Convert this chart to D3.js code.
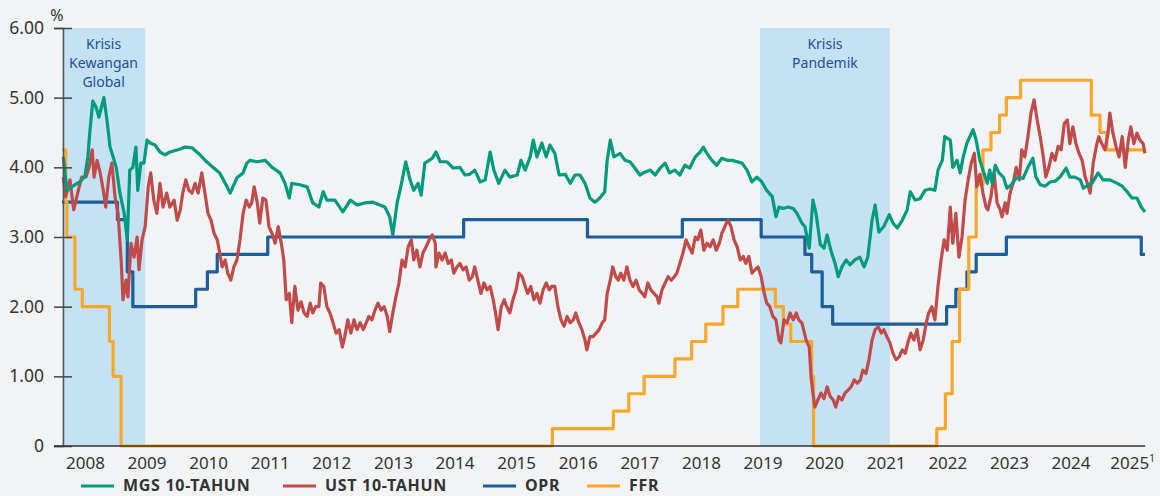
<!DOCTYPE html>
<html>
<head>
<meta charset="utf-8">
<script src="https://cdn.jsdelivr.net/npm/d3@7"></script>
<style>
  html, body { margin: 0; padding: 0; background: #f2f3f5; }
  svg { display: block; font-family: "Noto Sans", "Open Sans", sans-serif; }
</style>
</head>
<body>
<div id="chart"></div>
<script>
// years as decimal values, rates in %
const years = d3.range(2008, 2026);
const yTicks = [0, 1, 2, 3, 4, 5, 6];

const crises = [
  { label: ["Krisis", "Kewangan", "Global"], from: 2008.0, to: 2009.35 },
  { label: ["Krisis", "Pandemik"], from: 2019.33, to: 2021.44 }
];

const mgs10y = [
  [2008.02,4.15],[2008.08,3.67],[2008.13,3.70],[2008.21,3.75],[2008.29,3.79],[2008.37,3.87],
  [2008.42,4.15],[2008.45,4.49],[2008.50,4.95],[2008.55,4.87],[2008.60,4.72],[2008.68,5.00],
  [2008.73,4.68],[2008.78,4.29],[2008.83,4.15],[2008.88,4.00],[2008.94,3.63],[2009.01,3.34],
  [2009.06,2.96],[2009.10,3.96],[2009.15,4.00],[2009.20,4.29],[2009.23,3.67],[2009.28,4.06],
  [2009.33,4.06],[2009.38,4.39],[2009.43,4.35],[2009.51,4.32],[2009.59,4.22],[2009.67,4.18],
  [2009.75,4.22],[2009.87,4.25],[2010.00,4.29],[2010.11,4.28],[2010.24,4.18],[2010.35,4.08],
  [2010.45,4.00],[2010.56,3.92],[2010.68,3.72],[2010.73,3.63],[2010.84,3.85],[2010.94,3.92],
  [2011.00,4.06],[2011.05,4.10],[2011.17,4.08],[2011.30,4.10],[2011.41,4.00],[2011.54,3.92],
  [2011.62,3.77],[2011.69,3.56],[2011.73,3.77],[2011.86,3.75],[2011.98,3.72],[2012.07,3.49],
  [2012.17,3.43],[2012.24,3.65],[2012.30,3.53],[2012.43,3.53],[2012.56,3.36],[2012.68,3.53],
  [2012.79,3.46],[2012.92,3.49],[2013.05,3.50],[2013.16,3.46],[2013.24,3.43],[2013.32,3.29],
  [2013.37,3.03],[2013.44,3.49],[2013.50,3.72],[2013.58,4.08],[2013.65,3.82],[2013.71,3.67],
  [2013.78,3.77],[2013.83,3.60],[2013.89,4.06],[2014.01,4.13],[2014.07,4.22],[2014.14,4.08],
  [2014.25,4.08],[2014.35,3.99],[2014.46,4.00],[2014.54,3.89],[2014.62,3.90],[2014.70,3.96],
  [2014.79,3.79],[2014.87,3.82],[2014.95,4.22],[2015.01,3.96],[2015.09,3.77],[2015.19,3.96],
  [2015.27,3.86],[2015.39,3.89],[2015.45,4.10],[2015.52,3.96],[2015.60,4.15],[2015.65,4.39],
  [2015.71,4.15],[2015.79,4.35],[2015.86,4.15],[2015.92,4.32],[2016.00,4.20],[2016.07,3.89],
  [2016.17,3.90],[2016.25,3.77],[2016.33,3.89],[2016.41,3.89],[2016.49,3.77],[2016.57,3.56],
  [2016.65,3.50],[2016.73,3.56],[2016.81,3.65],[2016.85,4.10],[2016.90,4.39],[2016.96,4.15],
  [2017.06,4.20],[2017.14,4.10],[2017.22,4.08],[2017.30,3.99],[2017.38,3.89],[2017.46,3.93],
  [2017.55,3.96],[2017.63,3.89],[2017.71,3.99],[2017.79,4.06],[2017.86,3.92],[2017.95,3.96],
  [2018.03,3.89],[2018.11,4.03],[2018.19,3.99],[2018.28,4.15],[2018.36,4.22],[2018.41,4.29],
  [2018.47,4.20],[2018.55,4.10],[2018.63,4.03],[2018.71,4.13],[2018.80,4.10],[2018.88,4.10],
  [2018.96,4.08],[2019.04,4.06],[2019.12,3.96],[2019.20,3.79],[2019.28,3.86],[2019.36,3.79],
  [2019.44,3.67],[2019.53,3.58],[2019.59,3.29],[2019.64,3.43],[2019.70,3.41],[2019.79,3.43],
  [2019.87,3.41],[2019.93,3.34],[2020.01,3.20],[2020.06,3.15],[2020.13,2.84],[2020.19,3.53],
  [2020.24,3.34],[2020.31,2.89],[2020.37,2.84],[2020.42,3.03],[2020.48,2.81],[2020.55,2.62],
  [2020.60,2.43],[2020.66,2.57],[2020.73,2.67],[2020.79,2.60],[2020.87,2.67],[2020.95,2.71],
  [2021.02,2.57],[2021.08,2.71],[2021.15,3.24],[2021.20,3.46],[2021.26,3.07],[2021.34,3.15],
  [2021.43,3.32],[2021.49,3.20],[2021.56,3.13],[2021.64,3.24],[2021.72,3.39],[2021.77,3.65],
  [2021.85,3.53],[2021.93,3.55],[2022.01,3.67],[2022.09,3.69],[2022.17,3.67],[2022.22,3.96],
  [2022.29,4.10],[2022.33,4.44],[2022.42,4.39],[2022.46,4.00],[2022.53,4.10],[2022.58,3.92],
  [2022.63,4.15],[2022.69,4.35],[2022.79,4.54],[2022.84,4.39],[2022.90,4.10],[2022.95,3.96],
  [2023.02,3.77],[2023.06,3.96],[2023.10,3.77],[2023.15,4.03],[2023.21,3.92],[2023.28,3.86],
  [2023.34,3.70],[2023.41,3.75],[2023.47,3.82],[2023.52,3.86],[2023.60,3.84],[2023.68,4.00],
  [2023.76,4.13],[2023.81,3.86],[2023.88,3.75],[2023.96,3.73],[2024.04,3.79],[2024.12,3.80],
  [2024.20,3.86],[2024.30,3.99],[2024.36,3.86],[2024.44,3.86],[2024.53,3.82],[2024.58,3.70],
  [2024.66,3.75],[2024.72,3.77],[2024.82,3.92],[2024.90,3.82],[2025.01,3.82],[2025.13,3.77],
  [2025.21,3.73],[2025.29,3.65],[2025.37,3.56],[2025.45,3.56],[2025.52,3.43],[2025.58,3.36]
];

const ust10y = [
  [2008.02,3.86],[2008.06,3.58],[2008.13,3.82],[2008.19,3.39],[2008.26,3.65],[2008.32,3.86],
  [2008.39,3.86],[2008.44,4.00],[2008.49,4.25],[2008.52,3.86],[2008.57,4.10],[2008.62,3.92],
  [2008.67,3.67],[2008.71,3.43],[2008.76,3.86],[2008.81,4.06],[2008.86,3.58],[2008.91,3.34],
  [2008.96,2.67],[2008.99,2.10],[2009.04,2.38],[2009.07,2.14],[2009.12,2.91],[2009.17,2.71],
  [2009.22,3.00],[2009.25,2.53],[2009.30,2.96],[2009.35,3.15],[2009.40,3.72],[2009.44,3.92],
  [2009.49,3.53],[2009.54,3.34],[2009.59,3.77],[2009.64,3.43],[2009.70,3.63],[2009.75,3.43],
  [2009.82,3.53],[2009.87,3.24],[2009.92,3.39],[2009.96,3.63],[2010.01,3.82],[2010.06,3.67],
  [2010.11,3.63],[2010.16,3.77],[2010.21,3.63],[2010.27,3.92],[2010.32,3.63],[2010.37,3.34],
  [2010.42,3.24],[2010.47,3.05],[2010.52,2.96],[2010.56,2.77],[2010.60,2.57],[2010.65,2.67],
  [2010.69,2.48],[2010.74,2.38],[2010.79,2.57],[2010.84,2.67],[2010.89,2.96],[2010.94,3.34],
  [2010.99,3.53],[2011.04,3.43],[2011.08,3.49],[2011.12,3.72],[2011.17,3.49],[2011.21,3.20],
  [2011.26,3.56],[2011.31,3.53],[2011.36,3.15],[2011.41,3.05],[2011.46,2.91],[2011.51,3.15],
  [2011.56,2.91],[2011.60,2.67],[2011.64,2.10],[2011.69,2.19],[2011.73,1.77],[2011.78,2.29],
  [2011.83,1.95],[2011.88,2.07],[2011.93,1.91],[2011.98,1.86],[2012.03,2.05],[2012.07,1.91],
  [2012.12,2.00],[2012.17,2.00],[2012.20,2.34],[2012.25,2.29],[2012.30,2.00],[2012.35,1.91],
  [2012.40,1.77],[2012.45,1.62],[2012.50,1.67],[2012.55,1.42],[2012.59,1.57],[2012.64,1.81],
  [2012.69,1.62],[2012.74,1.81],[2012.79,1.67],[2012.84,1.77],[2012.89,1.67],[2012.94,1.77],
  [2012.98,1.86],[2013.03,1.81],[2013.08,1.95],[2013.13,2.05],[2013.18,1.95],[2013.23,2.00],
  [2013.28,1.86],[2013.32,1.64],[2013.37,1.91],[2013.42,2.14],[2013.47,2.34],[2013.52,2.67],
  [2013.57,2.57],[2013.62,2.86],[2013.67,2.96],[2013.71,2.67],[2013.76,2.81],[2013.81,2.57],
  [2013.86,2.77],[2013.91,2.86],[2013.96,2.96],[2014.01,3.03],[2014.06,2.91],[2014.07,2.57],
  [2014.12,2.77],[2014.17,2.67],[2014.22,2.77],[2014.27,2.62],[2014.32,2.67],[2014.36,2.48],
  [2014.41,2.57],[2014.46,2.62],[2014.51,2.53],[2014.56,2.57],[2014.61,2.38],[2014.66,2.43],
  [2014.70,2.57],[2014.75,2.38],[2014.80,2.19],[2014.85,2.34],[2014.90,2.24],[2014.95,2.29],
  [2015.00,2.10],[2015.03,1.95],[2015.08,1.67],[2015.13,2.00],[2015.18,2.10],[2015.22,2.00],
  [2015.27,1.91],[2015.32,2.10],[2015.37,2.24],[2015.42,2.48],[2015.47,2.43],[2015.52,2.29],
  [2015.56,2.19],[2015.61,2.29],[2015.66,2.10],[2015.71,2.19],[2015.76,2.05],[2015.81,2.24],
  [2015.86,2.34],[2015.91,2.24],[2015.95,2.29],[2016.00,2.29],[2016.05,2.00],[2016.10,1.81],
  [2016.15,1.72],[2016.20,1.86],[2016.25,1.77],[2016.30,1.81],[2016.34,1.91],[2016.39,1.77],
  [2016.44,1.67],[2016.49,1.52],[2016.52,1.38],[2016.57,1.57],[2016.62,1.57],[2016.67,1.62],
  [2016.72,1.67],[2016.77,1.77],[2016.81,1.81],[2016.85,2.19],[2016.90,2.38],[2016.94,2.57],
  [2016.99,2.43],[2017.03,2.38],[2017.07,2.48],[2017.12,2.38],[2017.17,2.57],[2017.22,2.38],
  [2017.27,2.29],[2017.32,2.38],[2017.37,2.24],[2017.42,2.19],[2017.46,2.14],[2017.51,2.34],
  [2017.56,2.24],[2017.61,2.19],[2017.66,2.14],[2017.69,2.05],[2017.74,2.24],[2017.79,2.34],
  [2017.84,2.43],[2017.89,2.38],[2017.94,2.43],[2017.98,2.48],[2018.03,2.62],[2018.08,2.77],
  [2018.13,2.96],[2018.18,2.86],[2018.23,2.77],[2018.28,3.00],[2018.32,2.96],[2018.37,3.10],
  [2018.42,2.81],[2018.47,2.91],[2018.52,2.86],[2018.57,2.96],[2018.62,2.81],[2018.67,2.91],
  [2018.71,3.05],[2018.76,3.15],[2018.81,3.24],[2018.86,3.15],[2018.91,2.96],[2018.96,2.86],
  [2019.01,2.67],[2019.06,2.72],[2019.10,2.62],[2019.15,2.72],[2019.20,2.48],[2019.25,2.53],
  [2019.30,2.57],[2019.35,2.43],[2019.40,2.19],[2019.44,2.05],[2019.49,2.00],[2019.54,1.86],
  [2019.59,1.81],[2019.64,1.52],[2019.67,1.48],[2019.72,1.81],[2019.77,1.77],[2019.82,1.91],
  [2019.87,1.81],[2019.92,1.91],[2019.96,1.81],[2020.01,1.77],[2020.08,1.52],[2020.13,1.42],
  [2020.16,0.99],[2020.19,0.76],[2020.22,0.56],[2020.27,0.66],[2020.32,0.76],[2020.37,0.68],
  [2020.42,0.85],[2020.47,0.71],[2020.52,0.66],[2020.56,0.56],[2020.61,0.71],[2020.66,0.66],
  [2020.71,0.76],[2020.76,0.80],[2020.81,0.85],[2020.86,0.95],[2020.91,0.90],[2020.96,0.95],
  [2021.00,1.09],[2021.05,1.04],[2021.10,1.24],[2021.15,1.52],[2021.20,1.67],[2021.25,1.71],
  [2021.30,1.62],[2021.34,1.67],[2021.39,1.57],[2021.44,1.48],[2021.49,1.33],[2021.54,1.24],
  [2021.59,1.28],[2021.64,1.38],[2021.69,1.33],[2021.73,1.48],[2021.78,1.62],[2021.83,1.52],
  [2021.88,1.67],[2021.93,1.38],[2021.98,1.52],[2022.03,1.77],[2022.07,1.91],[2022.12,2.00],
  [2022.17,1.81],[2022.22,2.29],[2022.27,2.67],[2022.32,2.96],[2022.37,2.81],[2022.42,3.43],
  [2022.46,2.91],[2022.51,3.34],[2022.56,2.71],[2022.61,3.00],[2022.66,3.53],[2022.71,3.82],
  [2022.76,4.06],[2022.81,4.20],[2022.85,3.72],[2022.90,3.90],[2022.95,3.63],[2023.00,3.43],
  [2023.03,3.39],[2023.08,3.58],[2023.13,3.92],[2023.18,3.49],[2023.23,3.39],[2023.26,3.29],
  [2023.31,3.49],[2023.34,3.34],[2023.39,3.63],[2023.44,3.77],[2023.49,4.00],[2023.54,3.82],
  [2023.58,4.25],[2023.63,4.15],[2023.68,4.44],[2023.73,4.78],[2023.78,4.97],[2023.83,4.68],
  [2023.88,4.44],[2023.93,4.15],[2023.97,3.86],[2024.02,4.00],[2024.07,4.20],[2024.12,4.10],
  [2024.17,4.30],[2024.22,4.25],[2024.27,4.63],[2024.32,4.68],[2024.36,4.34],[2024.41,4.58],
  [2024.46,4.34],[2024.51,4.20],[2024.56,4.10],[2024.61,3.86],[2024.66,3.73],[2024.69,3.63],
  [2024.74,4.06],[2024.79,4.30],[2024.83,4.44],[2024.88,4.34],[2024.93,4.25],[2024.98,4.49],
  [2025.01,4.78],[2025.06,4.49],[2025.11,4.30],[2025.16,4.15],[2025.21,4.44],[2025.26,4.00],
  [2025.31,4.39],[2025.35,4.58],[2025.40,4.34],[2025.45,4.49],[2025.50,4.39],[2025.55,4.34],
  [2025.58,4.20]
];

// policy rates: [date of change, new level]
const opr = [
  [2008.00,3.50],[2008.90,3.25],[2009.06,2.50],[2009.15,2.00],[2010.17,2.25],[2010.36,2.50],
  [2010.52,2.75],[2011.34,3.00],[2014.52,3.25],[2016.53,3.00],[2018.07,3.25],[2019.35,3.00],
  [2020.06,2.75],[2020.17,2.50],[2020.34,2.00],[2020.51,1.75],[2022.36,2.00],[2022.51,2.25],
  [2022.69,2.50],[2022.84,2.75],[2023.33,3.00],[2025.52,2.75],[2025.58,2.75]
];

const ffr = [
  [2008.00,4.25],[2008.06,3.50],[2008.08,3.00],[2008.21,2.25],[2008.33,2.00],[2008.77,1.50],
  [2008.83,1.00],[2008.96,0.00],[2015.96,0.25],[2016.95,0.50],[2017.20,0.75],[2017.45,1.00],
  [2017.95,1.25],[2018.22,1.50],[2018.45,1.75],[2018.73,2.00],[2018.97,2.25],[2019.58,2.00],
  [2019.71,1.75],[2019.83,1.50],[2020.17,1.00],[2020.20,0.00],[2022.20,0.25],[2022.34,0.75],
  [2022.45,1.50],[2022.57,2.25],[2022.72,3.00],[2022.84,3.75],[2022.95,4.25],[2023.08,4.50],
  [2023.22,4.75],[2023.33,5.00],[2023.56,5.25],[2024.71,4.75],[2024.85,4.50],[2024.96,4.25],
  [2025.58,4.25]
];

const series = [
  { name: "MGS 10-TAHUN", data: mgs10y, color: "#009a7c", step: false },
  { name: "UST 10-TAHUN", data: ust10y, color: "#c04b4a", step: false },
  { name: "OPR", data: opr, color: "#1d5d98", step: true },
  { name: "FFR", data: ffr, color: "#f9a72b", step: true }
];

const width = 1160, height = 496;

const svg = d3.select("#chart").append("svg")
  .attr("width", width)
  .attr("height", height);

svg.append("rect").attr("width", width).attr("height", height).attr("fill", "#f2f3f5");

const x = d3.scaleLinear().domain([2008, 2025.6]).range([62, 1146.2]);
const y = d3.scaleLinear().domain([0, 6]).range([446, 28]);

// crisis shading
const bands = svg.append("g").selectAll("g").data(crises).enter().append("g");
bands.append("rect")
  .attr("x", d => x(d.from))
  .attr("y", y(6))
  .attr("width", d => x(d.to) - x(d.from))
  .attr("height", y(0) - y(6))
  .attr("fill", "#c4e2f4");
bands.append("text")
  .attr("text-anchor", "middle")
  .attr("fill", "#1d4f9c")
  .style("font-size", "14px")
  .selectAll("tspan")
  .data(d => d.label.map(l => ({ l: l, cx: (x(d.from) + x(d.to)) / 2 })))
  .enter().append("tspan")
  .attr("x", d => d.cx)
  .attr("y", (d, i) => 49 + i * 19)
  .text(d => d.l);

// lines, drawn back to front
const drawOrder = [series[2], series[3], series[1], series[0]];
drawOrder.forEach(s => {
  const line = d3.line()
    .x(d => x(d[0]))
    .y(d => y(d[1]))
    .curve(s.step ? d3.curveStepAfter : d3.curveLinear);
  svg.append("path")
    .datum(s.data)
    .attr("fill", "none")
    .attr("stroke", s.color)
    .attr("stroke-width", 3.2)
    .attr("stroke-linejoin", "round")
    .attr("d", line);
});

// y axis
const yAxis = svg.append("g").attr("transform", "translate(63,0)")
  .call(d3.axisLeft(y).tickValues(yTicks).tickSize(9).tickPadding(10)
    .tickFormat(d => d === 0 ? "0" : d3.format(".2f")(d)));
yAxis.select(".domain").attr("stroke", "#555").attr("stroke-width", 1.5);
yAxis.selectAll(".tick line").attr("stroke", "#444").attr("stroke-width", 1.5)
  .attr("x2", 9).attr("x1", -9);
yAxis.selectAll(".tick text").attr("fill", "#333").style("font-size", "17.5px")
  .attr("x", -19).attr("font-family", "Noto Sans");

svg.append("text").attr("x", 57).attr("y", 21).attr("text-anchor", "middle")
  .attr("fill", "#333").style("font-size", "16px").text("%");

// x baseline
svg.append("line")
  .attr("x1", 54).attr("x2", x(2025.6) - 1)
  .attr("y1", y(0)).attr("y2", y(0))
  .attr("stroke", "#333").attr("stroke-width", 1.5);

// year labels
const yl = svg.append("g").selectAll("text").data(years).enter().append("text")
  .attr("x", d => x(d + 0.38))
  .attr("y", 468.5)
  .attr("text-anchor", "middle")
  .attr("fill", "#333")
  .style("font-size", "17px")
  .text(d => d);
yl.filter(d => d === 2025).append("tspan")
  .attr("dy", -7).style("font-size", "10px").text("1");

// legend
const legendPos = [81, 283, 483, 587];
const lg = svg.append("g").selectAll("g").data(series).enter().append("g")
  .attr("transform", (d, i) => `translate(${legendPos[i]},486)`);
lg.append("line").attr("x1", 0).attr("x2", 33)
  .attr("stroke", d => d.color).attr("stroke-width", 3);
lg.append("text").attr("x", 42).attr("y", 5.2)
  .attr("fill", "#333").style("font-size", "16px").style("font-weight", "bold")
  .style("letter-spacing", "0.7px")
  .text(d => d.name);
</script>
</body>
</html>
